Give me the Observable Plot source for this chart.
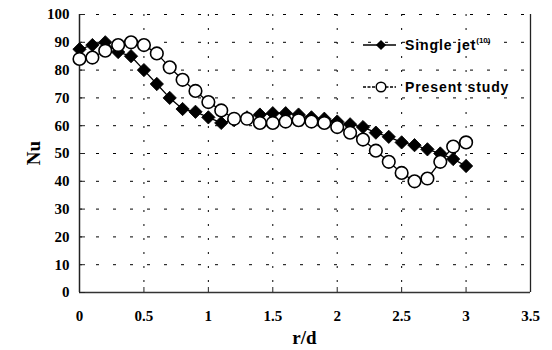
<!DOCTYPE html>
<html>
<head>
<meta charset="utf-8">
<script src="https://cdn.jsdelivr.net/npm/d3@7"></script>
<script src="https://cdn.jsdelivr.net/npm/@observablehq/plot@0.6"></script>
<style>
  html, body { margin: 0; padding: 0; background: #fff; }
  #chart { position: relative; width: 552px; height: 350px; }
</style>
</head>
<body>
<div id="chart"></div>
<script>
const rd = [0, 0.1, 0.2, 0.3, 0.4, 0.5, 0.6, 0.7, 0.8, 0.9, 1.0, 1.1, 1.2, 1.3, 1.4, 1.5,
            1.6, 1.7, 1.8, 1.9, 2.0, 2.1, 2.2, 2.3, 2.4, 2.5, 2.6, 2.7, 2.8, 2.9, 3.0];
const singleJet = [87.5, 89, 90, 86.5, 85, 80, 75, 70, 66, 65, 63, 61, 62, 63, 64, 64.5,
                   64.5, 64, 63, 62.5, 61.5, 60.5, 59.5, 57.5, 56, 54, 53, 51.5, 50, 48, 45.5];
const presentStudy = [84, 84.5, 87, 89, 90, 89, 86, 81, 76.5, 72.5, 68.5, 65.5, 62.5, 62.5, 61, 61,
                      61.5, 62, 61.5, 61, 59.5, 57.5, 55, 51, 47, 43, 40, 41, 47, 52.5, 54];
const xTicks = [0, 0.5, 1, 1.5, 2, 2.5, 3, 3.5];
const yTicks = [0, 10, 20, 30, 40, 50, 60, 70, 80, 90, 100];
const seriesNames = ["Single jet", "Present study"];
const xLabel = "r/d";
const yLabel = "Nu";

const sj = rd.map((r, i) => ({r, nu: singleJet[i]}));
const ps = rd.map((r, i) => ({r, nu: presentStudy[i]}));

const W = 552, H = 350, mL = 79, mR = 22, mT = 14, mB = 58;

const plot = Plot.plot({
  width: W, height: H,
  marginLeft: mL, marginRight: mR, marginTop: mT, marginBottom: mB,
  x: {domain: [0, 3.5]},
  y: {domain: [0, 100]},
  style: {fontFamily: "'Liberation Serif', 'DejaVu Serif', serif", fontWeight: "bold", fontSize: "15px", background: "#fff", color: "#000"},
  marks: [
    Plot.ruleX(xTicks.slice(1, -1), {x: d => d, stroke: "#000", strokeWidth: 1, strokeDasharray: "2,12"}),
    Plot.ruleY(yTicks.slice(1), {y: d => d, stroke: "#000", strokeWidth: 1, strokeDasharray: "3,14"}),
    Plot.ruleX([3.5], {x: d => d, stroke: "#222", strokeWidth: 1.3}),
    Plot.ruleX([0], {x: d => d, stroke: "#222", strokeWidth: 1.5}),
    Plot.ruleY([0], {y: d => d, stroke: "#333", strokeWidth: 1.5}),
    Plot.tickY(yTicks, {y: d => d, stroke: "#222", insetRight: W - mL - mR - 6}),
    Plot.tickX(xTicks, {x: d => d, stroke: "#222", insetTop: H - mT - mB - 5}),
    Plot.axisY(yTicks, {tickSize: 0, tickPadding: 10, fontSize: 15, fontWeight: "bold", label: null}),
    Plot.axisX(xTicks, {tickSize: 0, tickPadding: 18, fontSize: 15, fontWeight: "bold", label: null, tickFormat: d => String(d)}),
    Plot.line(sj, {x: "r", y: "nu", stroke: "#000", strokeWidth: 1.3}),
    Plot.dot(sj, {x: "r", y: "nu", symbol: "square", r: 5.3, rotate: 45, fill: "#000", stroke: "#000", strokeWidth: 0.8}),
    Plot.line(ps, {x: "r", y: "nu", stroke: "#000", strokeWidth: 1.3}),
    Plot.dot(ps, {x: "r", y: "nu", symbol: "circle", r: 6.3, fill: "#fff", stroke: "#000", strokeWidth: 1.6})
  ]
});

const svg = d3.select(plot);
// axis titles
svg.append("text")
  .attr("x", (mL + W - mR) / 2).attr("y", 344)
  .attr("text-anchor", "middle")
  .style("font-family", "'Liberation Serif', serif").style("font-weight", "bold").style("font-size", "19px")
  .text(xLabel);
svg.append("text")
  .attr("transform", "translate(40," + (mT + (H - mT - mB) / 2) + ") rotate(-90)")
  .attr("text-anchor", "middle")
  .style("font-family", "'Liberation Serif', serif").style("font-weight", "bold").style("font-size", "19px")
  .text(yLabel);

// legend
const lg = svg.append("g")
  .attr("text-anchor", "start")
  .style("font-family", "'Liberation Sans', Arial, sans-serif").style("font-weight", "bold").style("font-size", "14px");
const rows = [{y: 45, kind: "diamond"}, {y: 87, kind: "circle"}];
rows.forEach((row, i) => {
  lg.append("line").attr("x1", 363).attr("x2", 396).attr("y1", row.y).attr("y2", row.y)
    .attr("stroke", "#000").attr("stroke-width", 1.3).attr("stroke-dasharray", i === 0 ? null : "3,1.5");
  if (row.kind === "diamond") {
    lg.append("rect").attr("x", -3.6).attr("y", -3.6).attr("width", 7.2).attr("height", 7.2)
      .attr("transform", "translate(381," + row.y + ") rotate(45)").attr("fill", "#000");
  } else {
    lg.append("circle").attr("cx", 381).attr("cy", row.y).attr("r", 4.8).attr("fill", "#fff").attr("stroke", "#000").attr("stroke-width", 1.5);
  }
  const t = lg.append("text").attr("x", 405).attr("y", row.y + 5).attr("text-anchor", "start")
    .style("letter-spacing", "0.9px").text(seriesNames[i]);
  if (i === 0) {
    t.append("tspan").attr("dy", -7).style("font-size", "8px").style("letter-spacing", "0px").text("(10)");
  }
});

document.getElementById("chart").appendChild(plot);
</script>
</body>
</html>
